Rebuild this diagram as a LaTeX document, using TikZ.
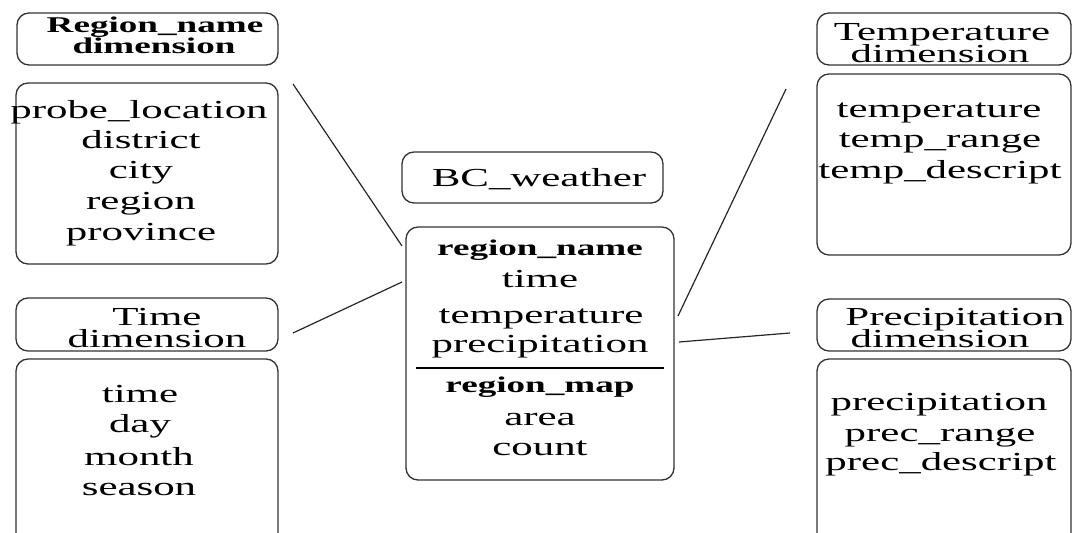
\documentclass[tikz,border=0pt]{standalone}
\usepackage{fontspec}
\setmainfont{Liberation Serif}[FakeStretch=1.65]
\begin{document}
\begin{tikzpicture}[x=1pt,y=-1pt,
  box/.style={draw=black!80, line width=1.3pt, rounded corners=12pt, inner sep=0pt},
  txt/.style={font=\fontsize{26}{30.5}\selectfont, inner sep=0pt, anchor=base},
  bld/.style={font=\fontsize{22.5}{21.5}\selectfont\bfseries, inner sep=0pt, anchor=base},
  link/.style={draw=black!85, line width=1.2pt},
  sepline/.style={draw=black, line width=2.2pt}]
\useasboundingbox (0,0) rectangle (1072,533);
\clip (0,0) rectangle (1072,533);
% boxes
\node[box, minimum width=261pt, minimum height=52pt] (rt) at (147.5,39) {};
\node[box, minimum width=262pt, minimum height=181pt] (ra) at (147,173.5) {};
\node[box, minimum width=262pt, minimum height=53pt] (tt) at (147,324.5) {};
\node[box, minimum width=262pt, minimum height=201pt] (ta) at (147,459.5) {};
\node[box, minimum width=261pt, minimum height=51pt] (bc) at (532.5,177.5) {};
\node[box, minimum width=268pt, minimum height=253pt] (mb) at (540,353.5) {};
\node[box, minimum width=254pt, minimum height=52pt] (pt) at (944,39) {};
\node[box, minimum width=254pt, minimum height=181pt] (pa) at (944,164.5) {};
\node[box, minimum width=254pt, minimum height=52pt] (qt) at (944,325) {};
\node[box, minimum width=254pt, minimum height=201pt] (qa) at (944,459.5) {};
\draw[sepline] (416,368) -- (664,368);
% region dimension
\node[bld] (rt1) at (155,32) {Region\_name};
\node[bld] (rt2) at (154,53) {dimension};
\node[txt] (ra1) at (139,118) {probe\_location};
\node[txt] (ra2) at (141,148) {district};
\node[txt] (ra3) at (141,178) {city};
\node[txt] (ra4) at (141,209) {region};
\node[txt] (ra5) at (141,240) {province};
% time dimension
\node[txt] (tt1) at (157,325) {Time};
\node[txt] (tt2) at (157,347) {dimension};
\node[txt] (ta1) at (140,402) {time};
\node[txt] (ta2) at (140,432) {day};
\node[txt] (ta3) at (139,465) {month};
\node[txt] (ta4) at (139,495) {season};
% fact table
\node[txt] (bct) at (539,186) {BC\_weather};
\node[bld] (m1) at (540,255) {region\_name};
\node[txt] (m2) at (540,287) {time};
\node[txt] (m3) at (541,323) {temperature};
\node[txt] (m4) at (540,352) {precipitation};
\node[bld] (m5) at (540,392) {region\_map};
\node[txt] (m6) at (540,425) {area};
\node[txt] (m7) at (540,455) {count};
% temperature dimension
\node[txt] (pt1) at (942,40) {Temperature};
\node[txt] (pt2) at (940,62) {dimension};
\node[txt] (pa1) at (939,117) {temperature};
\node[txt] (pa2) at (940,147) {temp\_range};
\node[txt] (pa3) at (940,178) {temp\_descript};
% precipitation dimension
\node[txt] (qt1) at (955,325) {Precipitation};
\node[txt] (qt2) at (940,347) {dimension};
\node[txt] (qa1) at (939,410) {precipitation};
\node[txt] (qa2) at (940,441) {prec\_range};
\node[txt] (qa3) at (941,470) {prec\_descript};
% connector ends
\coordinate (e1) at (293,84);
\coordinate (f1) at (402,246);
\coordinate (e2) at (293,333);
\coordinate (f2) at (402,282);
\coordinate (e3) at (786,89);
\coordinate (f3) at (678,316);
\coordinate (e4) at (790,333);
\coordinate (f4) at (679,342);
\draw[link] (e1) -- (f1);
\draw[link] (e2) -- (f2);
\draw[link] (f3) -- (e3);
\draw[link] (f4) -- (e4);
\end{tikzpicture}
\end{document}
